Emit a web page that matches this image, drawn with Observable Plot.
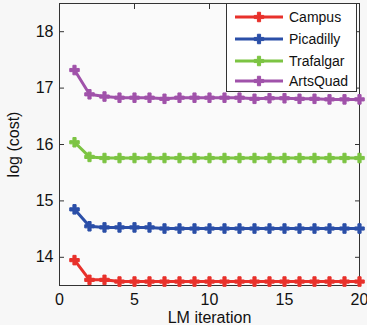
<!DOCTYPE html>
<html>
<head>
<meta charset="utf-8">
<script src="https://cdn.jsdelivr.net/npm/d3@7"></script>
<script src="https://cdn.jsdelivr.net/npm/@observablehq/plot@0.6"></script>
<style>
  html, body { margin: 0; padding: 0; background: #f7f7f7; }
  #wrap { position: relative; width: 367px; height: 325px; font-family: "Liberation Sans", Arial, sans-serif; }
  #legend { position: absolute; left: 226px; top: 3px; width: 131px; height: 89px; background: #ffffff; border: 1px solid #333; box-sizing: border-box; }
  .row { position: absolute; left: 0; height: 20px; display: flex; align-items: center; font-size: 14px; color: #111; }
  .row svg { margin-left: 8px; margin-right: 6px; }
</style>
</head>
<body>
<div id="wrap"></div>
<script>
const iterations = d3.range(1, 21);
const seriesNames = ["Campus", "Picadilly", "Trafalgar", "ArtsQuad"];
const seriesColors = ["#e8312b", "#2b4fa8", "#7cc443", "#a052aa"];
const campus    = [13.95, 13.60, 13.60, 13.57, 13.57, 13.57, 13.57, 13.57, 13.57, 13.57, 13.57, 13.57, 13.57, 13.57, 13.57, 13.57, 13.57, 13.57, 13.57, 13.57];
const picadilly = [14.85, 14.55, 14.53, 14.53, 14.53, 14.53, 14.51, 14.51, 14.51, 14.51, 14.51, 14.51, 14.51, 14.51, 14.51, 14.51, 14.51, 14.51, 14.51, 14.51];
const trafalgar = [16.04, 15.78, 15.76, 15.76, 15.76, 15.76, 15.76, 15.76, 15.76, 15.76, 15.76, 15.76, 15.76, 15.76, 15.76, 15.76, 15.76, 15.76, 15.76, 15.76];
const artsquad  = [17.32, 16.89, 16.85, 16.83, 16.83, 16.83, 16.81, 16.83, 16.83, 16.83, 16.83, 16.83, 16.81, 16.82, 16.82, 16.81, 16.81, 16.80, 16.80, 16.80];
const xTicks = [0, 5, 10, 15, 20];
const yTicks = [14, 15, 16, 17, 18];
const xLabel = "LM iteration";
const yLabel = "log (cost)";

const allSeries = [campus, picadilly, trafalgar, artsquad];
const data = [];
allSeries.forEach((vals, si) => vals.forEach((v, i) => data.push({series: seriesNames[si], x: iterations[i], y: v})));

const tickColor = "#333";
const chart = Plot.plot({
  width: 367,
  height: 325,
  marginLeft: 59,
  marginRight: 8,
  marginTop: 3,
  marginBottom: 40,
  style: { background: "transparent", fontFamily: "'Liberation Sans', Arial, sans-serif", fontSize: "16px", color: "#111" },
  x: { domain: [0, 20] },
  y: { domain: [13.5, 18.5] },
  color: { domain: seriesNames, range: seriesColors },
  marks: [
    Plot.frame({ fill: "#fafafa" }),
    Plot.frame({ stroke: tickColor, strokeWidth: 1 }),
    Plot.axisX({ anchor: "bottom", ticks: xTicks, tickSize: 5, dy: -5, text: null, label: null, stroke: tickColor }),
    Plot.axisX({ anchor: "top", ticks: xTicks, tickSize: 5, dy: 5, text: null, label: null, stroke: tickColor }),
    Plot.axisY({ anchor: "left", ticks: yTicks, tickSize: 5, dx: 5, text: null, label: null, stroke: tickColor }),
    Plot.axisY({ anchor: "right", ticks: yTicks, tickSize: 5, dx: -5, text: null, label: null, stroke: tickColor }),
    Plot.axisX({ anchor: "bottom", ticks: xTicks, tickFormat: "d", tickSize: 0, tickPadding: 8, label: xLabel, labelAnchor: "center", labelOffset: 37, labelArrow: "none", fontSize: 16 }),
    Plot.axisY({ anchor: "left", ticks: yTicks, tickFormat: "d", tickSize: 0, tickPadding: 6, label: yLabel, labelAnchor: "center", labelOffset: 52, labelArrow: "none", fontSize: 16 }),
    Plot.line(data, { x: "x", y: "y", z: "series", stroke: "series", strokeWidth: 3 }),
    Plot.dot(data, { x: "x", y: "y", fill: "series", stroke: "series", symbol: "cross", r: 4, strokeWidth: 1 })
  ]
});

const wrap = document.getElementById("wrap");
wrap.appendChild(chart);

const legend = document.createElement("div");
legend.id = "legend";
const rowTops = [3, 25, 47, 67];
seriesNames.forEach((name, i) => {
  const row = document.createElement("div");
  row.className = "row";
  row.style.top = rowTops[i] + "px";
  const c = seriesColors[i];
  const s = d3.create("svg").attr("width", 48).attr("height", 12);
  s.append("line").attr("x1", 0).attr("x2", 48).attr("y1", 6).attr("y2", 6).attr("stroke", c).attr("stroke-width", 3);
  s.append("path").attr("d", d3.symbol(d3.symbolCross, 50)()).attr("transform", "translate(24,6)").attr("fill", c).attr("stroke", c);
  row.appendChild(s.node());
  const t = document.createElement("span");
  t.textContent = name;
  row.appendChild(t);
  legend.appendChild(row);
});
wrap.appendChild(legend);
</script>
</body>
</html>
